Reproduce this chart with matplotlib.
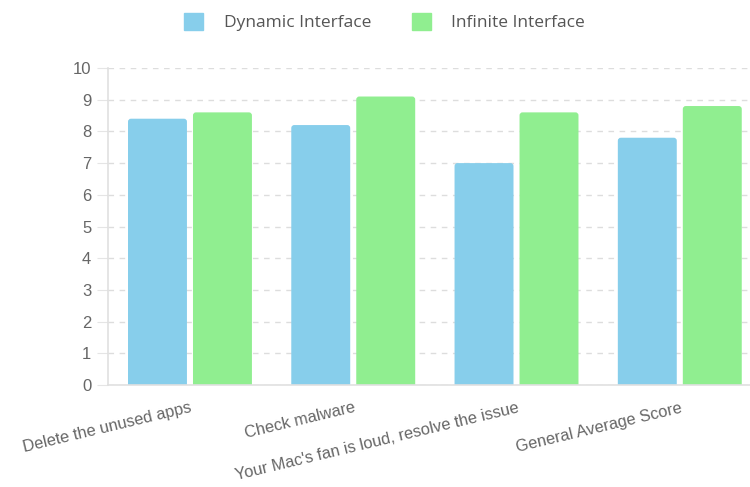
import matplotlib
matplotlib.use("Agg")
import matplotlib.pyplot as plt
from matplotlib.patches import Patch, FancyBboxPatch
import numpy as np

categories = ["Delete the unused apps", "Check malware",
              "Your Mac's fan is loud, resolve the issue", "General Average Score"]
series_names = ["Dynamic Interface", "Infinite Interface"]
dynamic = [8.4, 8.2, 7.0, 7.8]
infinite = [8.6, 9.1, 8.6, 8.8]
colors = ["#87CEEB", "#90EE90"]
yticks = list(range(0, 11))

plt.rcParams['font.family'] = ['Liberation Sans', 'DejaVu Sans']

fig = plt.figure(figsize=(7.5, 4.87), dpi=100)
ax = fig.add_axes([0.144, 0.2094, 0.856, 0.651])

x = np.arange(len(categories))
w = 0.361
off = 0.199
xlim = (-0.502, 3.43)
ax.set_xlim(*xlim)
ax.set_ylim(0, 10)

# pixel scales for rounded corners
ax_w_px = 0.856 * 750
ax_h_px = 0.651 * 487
px_per_x = ax_w_px / (xlim[1] - xlim[0])
px_per_y = ax_h_px / 10.0
r_px = 3.0
r = r_px / px_per_x
aspect = px_per_x / px_per_y

for vals, c, sign in [(dynamic, colors[0], -1), (infinite, colors[1], 1)]:
    bars = ax.bar(x + sign * off, vals, width=w, color=c, zorder=3)
    for b in bars:
        bx, by = b.get_x(), b.get_y()
        bw, bh = b.get_width(), b.get_height()
        b.set_visible(False)
        ext = 0.15
        p = FancyBboxPatch((bx, by - ext), bw, bh + ext,
                           boxstyle=f"round,pad=0,rounding_size={r}",
                           mutation_aspect=aspect, facecolor=c, edgecolor='none',
                           zorder=3, clip_on=True)
        ax.add_patch(p)

ax.set_yticks(yticks)
ax.set_yticklabels([str(t) for t in yticks], fontsize=12, color="#666666")
ax.set_xticks(x)
ax.set_xticklabels(categories, rotation=13.5, ha='right', va='top',
                   rotation_mode='anchor', fontsize=11.8, color="#666666")
ax.tick_params(axis='y', length=8, color="#e5e5e5", pad=4)
ax.tick_params(axis='x', length=0, pad=11)

ax.grid(axis='y', linestyle=(0, (4, 4)), color="#dddddd", linewidth=1, zorder=0)
for s in ["top", "right"]:
    ax.spines[s].set_visible(False)
for s in ["left", "bottom"]:
    ax.spines[s].set_color("#e0e0e0")
    ax.spines[s].set_linewidth(1.2)
    ax.spines[s].set_zorder(4)

handles = [Patch(facecolor=colors[0], edgecolor=colors[0]),
           Patch(facecolor=colors[1], edgecolor=colors[1])]
leg = fig.legend(handles, series_names, loc='upper center', bbox_to_anchor=(0.513, 1.005),
                 ncol=2, frameon=False, handlelength=1.1, handleheight=1.1,
                 handletextpad=1.2, columnspacing=2.3,
                 prop={'family': 'Open Sans', 'size': 12.5})
for t in leg.get_texts():
    t.set_color("#555555")

fig.savefig("out.png", dpi=100)
